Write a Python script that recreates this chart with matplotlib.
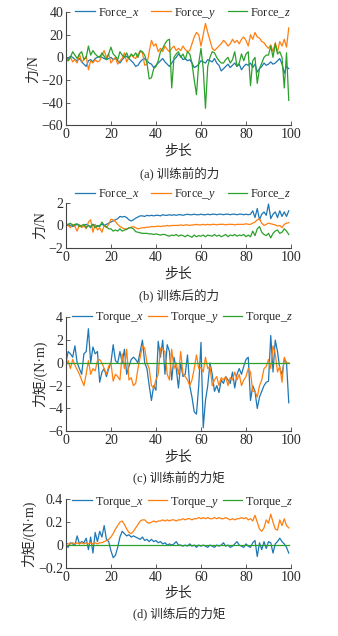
import numpy as np
import matplotlib
matplotlib.use('Agg')
import matplotlib.pyplot as plt

plt.rcParams['font.family'] = ['Liberation Serif', 'Noto Sans CJK SC']
plt.rcParams['mathtext.fontset'] = 'custom'
plt.rcParams['mathtext.rm'] = 'Liberation Serif'
plt.rcParams['mathtext.it'] = 'Liberation Serif:italic'

steps = np.arange(100)

# (a) force before training
force_x_a = [0, -1, 1, 0, -2, -3, -1, -4, -6, -8,
             -3, -2, -4, -1, 0, 1, 0, -1, -2, -1,
             0, -2, -1, -3, -5, -2, 0, 1, -1, -3,
             -5, -8, -7, -4, -2, -1, -3, -5, -6, -9,
             -7, -5, -3, -1, -4, -6, -8, -5, -2, 0,
             3, 1, -2, -1, -3, -2, -5, -9, -8, -6,
             -3, -4, -5, -2, -3, -4, -1, -5, -7, -12,
             -10, -8, -6, -9, -7, -5, -8, -6, -11, -8,
             -6, -7, -5, -9, -6, -13, -10, -8, -5, -7,
             -6, -4, -6, -5, -3, -1, -6, -14, -8, -10]
force_y_a = [-2, -3, 0, -4, -2, -5, 3, -4, -2, 1,
             -11, -3, -5, -2, -4, -3, 2, 6, 0, 3,
             -5, -2, 0, -6, -3, -1, 4, -4, 0, 2,
             0, -1, 3, 5, 4, -7, -6, 5, 15, 10,
             12, 5, 8, 5, 10, 7, 5, 8, 10, 6,
             8, 6, 10, 7, 5, 6, 12, 18, 22, 20,
             10, 20, 30, 22, 15, 8, 6, 8, 10, 12,
             15, 13, 10, 12, 16, 13, 15, 12, 16, 18,
             15, 10, 20, 16, 22, 18, 17, 14, 13, 10,
             8, 11, 5, 13, 5, 14, 10, 16, 9, 26]
force_z_a = [-1, -3, 0, 5, 2, -1, 3, 5, -2, 0,
             10, 2, 6, 3, 1, 0, 4, 1, -2, 3,
             9, 3, 1, -2, 5, 2, 0, 4, -1, 3,
             1, 4, 0, 6, 5, 2, -5, -19, -18, -10,
             -8, -3, 5, 8, 12, 15, 16, -27, 0, 3,
             5, 0, 3, -2, 5, 3, -5, -20, -33, -5,
             8, -10, -45, -8, 0, 5, 4, 0, -3, -5,
             -5, -2, 0, -5, -2, 5, -8, -5, 3, -3,
             3, 5, -25, -3, 0, -23, -10, -5, 0, 2,
             2, 10, 0, 12, 3, 5, 0, -27, 4, -38]

# (b) force after training
force_x_b = [0, 0.1, 0, -0.1, 0, 0.1, 0, -0.1, 0, 0.1,
             0, -0.2, 0.1, 0, -0.1, 0, 0.1, 0, 0.1, 0.2,
             0.3, 0.4, 0.5, 0.6, 0.8, 0.75, 0.8, 0.7, 0.5, 0.4,
             0.5, 0.65, 0.75, 0.85, 0.85, 0.8, 0.9, 0.85, 0.9, 0.85,
             0.9, 0.9, 0.85, 0.95, 0.9, 0.9, 0.95, 0.9, 0.95, 0.9,
             0.95, 0.95, 0.9, 0.95, 1.0, 0.95, 0.95, 1.0, 0.95, 0.95,
             1.0, 0.95, 0.95, 1.0, 0.95, 1.0, 1.0, 0.95, 1.0, 1.0,
             0.95, 1.0, 1.0, 0.95, 1.0, 1.0, 0.95, 1.0, 1.0, 0.95,
             1.0, 0.95, 1.0, 1.3, 0.7, 1.5, 0.5, 1.0, 1.2, 0.9,
             1.9, 0.6, 1.0, 1.2, 0.7, 1.3, 0.8, 1.2, 0.8, 1.3]
force_y_b = [0.2, 0, -0.2, 0.1, -0.1, -0.5, 0.1, -0.2, 0, -0.3,
             0.3, 0.5, -0.6, 0.1, -0.4, -0.2, -0.6, 0, -0.2, 0.1,
             0.55, 0.5, 0.35, 0.1, -0.1, -0.2, -0.3, -0.3, -0.25, -0.15,
             -0.1, -0.2, -0.3, -0.25, -0.2, -0.2, -0.15, -0.15, -0.1, -0.1,
             -0.1, -0.05, -0.1, -0.05, -0.05, 0, -0.05, 0, 0, 0,
             0, 0.05, 0, 0.05, 0.05, 0, 0.05, 0.05, 0.1, 0.05,
             0.05, 0.1, 0.05, 0.1, 0.05, 0.1, 0.1, 0.05, 0.1, 0.1,
             0.1, 0.05, 0.1, 0.1, 0.1, 0.05, 0.1, 0.1, 0.1, 0.1,
             0.15, 0.1, 0.1, 0.2, 0.3, 0.5, 0.6, 0.2, 0, 0.1,
             0.2, 0.15, 0.1, 0.05, -0.05, 0, -0.2, 0.1, 0.2, 0.25]
force_z_b = [-0.1, 0.1, 0.2, 0, 0.1, 0.15, -0.1, 0, 0.1, -0.2,
             0, -0.1, 0.1, -0.2, 0, -0.1, 0.3, 0, -0.1, -0.3,
             -0.3, -0.5, -0.4, -0.5, -0.3, -0.5, -0.4, -0.35, -0.2, -0.2,
             -0.3, -0.55, -0.6, -0.65, -0.7, -0.7, -0.7, -0.75, -0.75, -0.8,
             -0.75, -0.8, -0.85, -0.8, -0.8, -0.9, -0.95, -0.85, -0.9, -0.8,
             -0.95, -0.85, -0.9, -1.0, -0.85, -0.95, -1.05, -0.85, -1.0, -0.9,
             -0.95, -0.85, -1.0, -0.85, -0.9, -0.95, -0.8, -0.95, -0.85, -1.0,
             -0.9, -0.8, -1.0, -0.85, -0.9, -0.8, -0.95, -0.85, -0.9, -0.8,
             -1.0, -0.85, -1.0, -0.5, -0.9, -0.3, -0.1, -0.6, -0.8, -0.9,
             -0.7, -1.1, -0.7, -0.5, -0.4, -0.7, -0.6, -0.3, -0.5, -0.8]

# (c) torque before training
torque_x_c = [0, 1.0, 0.8, 0.5, 1.5, 0, -0.5, -1.0, 0.8, 1.0,
              3.0, 0, 1.4, 0.8, 1.0, -1.7, -0.8, -0.5, -1.2, -0.5,
              0, 1.6, 0.2, 0, 1.0, 0, 1.2, -1.0, -0.3, 0.3,
              0.5, 0.3, 0, 1.0, 2.0, 0, -0.5, -2.0, -3.3, -2.0,
              -2.4, 1.9, 0.5, 2.0, -1.0, 1.6, 1.0, -1.5, 0.5, -0.5,
              -2.2, 0, -1.2, -1.0, 0.7, -2.0, -3.0, -4.3, -4.5, -2.0,
              1.8, -5.7, -3.3, -2.0, 0, -1.0, -2.5, -2.0, -2.6, -1.5,
              -1.8, -1.2, -1.5, -1.8, -0.8, -2.2, -1.0, -0.5, -1.0, -0.3,
              0.3, 0.5, -3.3, -2.0, -2.5, -4.0, -3.0, -2.5, -2.0, -1.7,
              -1.6, 2.4, -0.8, 2.0, 1.0, -0.5, -1.0, 0.3, 0, -3.5]
torque_y_c = [-0.3, 0.2, -0.5, 0.3, -0.2, -0.6, -1.0, -1.5, -2.0, -1.0,
              0.2, -1.0, -0.5, -0.7, 0.2, 0.3, 0, -0.5, -1.0, -0.3,
              0, -1.6, -1.0, -1.2, -1.5, 0.8, -0.5, 1.2, -1.5, -1.3,
              -2.0, -1.8, -0.5, 0.5, 1.5, 1.3, 0, -0.5, -2.0, -2.2,
              -1.5, -1.0, 1.3, 1.2, 1.0, -1.0, -1.5, 1.2, -0.5, 0,
              -1.0, 1.0, -1.0, -1.2, -1.5, -2.0, -1.5, -0.5, 0.7, -0.5,
              -0.4, -0.8, 0.5, -0.5, -0.3, -2.0, -1.5, -1.2, -2.0, -1.3,
              -1.5, -1.2, -2.0, -1.3, -1.5, -0.8, -1.5, -1.0, -2.0, -1.5,
              -1.2, -0.5, -0.8, -2.5, -2.5, -3.0, -2.0, -1.5, -0.5, -0.3,
              0.3, -0.5, 1.5, 0.8, -0.8, -0.3, -1.7, 0.5, 0, 0]
torque_z_c = [0] * 100

# (d) torque after training
torque_x_d = [0, -0.02, 0.02, 0.01, 0, 0.08, 0.01, 0.03, 0.02, 0.06,
              -0.04, 0.07, -0.07, 0.11, 0.03, 0.12, 0.07, 0.17, 0.05, 0.03,
              -0.05, -0.11, -0.09, -0.02, 0.07, 0.12, 0.1, 0.08, 0.09, 0.07,
              0.08, 0.07, 0.06, 0.05, 0.07, 0.04, 0.05, 0.03, 0.05, 0.03,
              0.04, 0.02, 0.03, 0.01, 0.02, 0, 0.01, 0, 0.01, 0.03,
              0, 0, -0.01, 0, -0.01, 0.01, -0.01, 0, -0.02, 0,
              -0.01, 0, -0.01, -0.02, 0, -0.01, -0.02, 0, -0.01, 0,
              0.02, -0.01, 0, -0.02, -0.01, 0.01, 0.03, 0, -0.01, -0.02,
              0.01, -0.01, -0.02, 0.02, 0.04, -0.1, 0.02, -0.04, 0.03, -0.03,
              0.03, 0.02, -0.07, 0.01, 0.03, 0.06, 0.03, 0.01, -0.02, -0.07]
torque_y_d = [0.02, 0.01, 0.01, 0.02, 0.01, 0.02, 0.01, 0.02, 0.01, 0.02,
              0.01, 0.02, 0.01, 0.02, 0.01, 0.02, 0.02, 0.03, 0.04, 0.05,
              0.07, 0.1, 0.14, 0.17, 0.2, 0.21, 0.18, 0.14, 0.11, 0.1,
              0.12, 0.15, 0.18, 0.21, 0.22, 0.22, 0.2, 0.19, 0.2, 0.21,
              0.2, 0.21, 0.21, 0.22, 0.21, 0.22, 0.21, 0.22, 0.22, 0.21,
              0.22, 0.22, 0.23, 0.22, 0.23, 0.23, 0.22, 0.23, 0.23, 0.24,
              0.23, 0.24, 0.23, 0.24, 0.23, 0.23, 0.24, 0.23, 0.24, 0.23,
              0.23, 0.24, 0.23, 0.22, 0.23, 0.22, 0.23, 0.23, 0.24, 0.23,
              0.24, 0.22, 0.23, 0.21, 0.26, 0.2, 0.14, 0.12, 0.15, 0.22,
              0.19, 0.27, 0.2, 0.14, 0.13, 0.22, 0.17, 0.23, 0.17, 0.15]
torque_z_d = [0] * 100

force_labels = ['Force_$x$', 'Force_$y$', 'Force_$z$']
torque_labels = ['Torque_$x$', 'Torque_$y$', 'Torque_$z$']
colors = ['#1f77b4', '#ff7f0e', '#2ca02c']
text_color = '#2a2a2a'

fig = plt.figure(figsize=(3.38, 6.36), dpi=100)


def tick_text(t):
    s = '%g' % abs(t)
    return '\u2212' + s if t < 0 else s


def draw_panel(rect, series, labels, ylim, yticks, ylabel, caption, cap_y,
               leg_y, leg_spacing):
    ax = fig.add_axes(rect)
    for vals, lab, c in zip(series, labels, colors):
        ax.plot(steps, vals, color=c, lw=0.9, label=lab)
    ax.set_xlim(0, 100)
    ax.set_ylim(*ylim)
    ax.set_xticks(np.arange(0, 101, 20))
    ax.set_yticks(yticks)
    ax.set_yticklabels([tick_text(t) for t in yticks])
    for s in ['top', 'right']:
        ax.spines[s].set_visible(False)
    for s in ['left', 'bottom']:
        ax.spines[s].set_color('#444444')
        ax.spines[s].set_linewidth(0.8)
    ax.tick_params(direction='in', length=3, width=0.6, labelsize=10,
                   colors='#444444', labelcolor=text_color, pad=2)
    ax.set_xlabel('步长', fontsize=10, color=text_color, labelpad=2)
    ax.set_ylabel(ylabel, fontsize=10, color=text_color, labelpad=1)
    ax.legend(loc='center', bbox_to_anchor=(0.52, leg_y), ncol=3,
              frameon=False, fontsize=8.8, handlelength=1.6,
              handletextpad=0.25, columnspacing=leg_spacing,
              labelcolor=text_color, borderpad=0.1)
    fig.text(0.53, cap_y, caption, ha='center', va='center', fontsize=9,
             color=text_color)
    return ax


draw_panel([0.195, 0.803, 0.666, 0.178], [force_x_a, force_y_a, force_z_a],
           force_labels, (-60, 40), [-60, -40, -20, 0, 20, 40], '力/N',
           '(a) 训练前的力', 0.728, 0.99, 1.0)
draw_panel([0.195, 0.610, 0.666, 0.071], [force_x_b, force_y_b, force_z_b],
           force_labels, (-2, 2), [-2, 0, 2], '力/N',
           '(b) 训练后的力', 0.536, 1.18, 1.0)
draw_panel([0.195, 0.322, 0.666, 0.179], [torque_x_c, torque_y_c, torque_z_c],
           torque_labels, (-6, 4), [-6, -4, -2, 0, 2, 4], '力矩/(N·m)',
           '(c) 训练前的力矩', 0.25, 1.0, 0.3)
draw_panel([0.195, 0.107, 0.666, 0.108], [torque_x_d, torque_y_d, torque_z_d],
           torque_labels, (-0.2, 0.4), [-0.2, 0, 0.2, 0.4], '力矩/(N·m)',
           '(d) 训练后的力矩', 0.035, 0.957, 0.3)

fig.savefig('out.png', dpi=100)
